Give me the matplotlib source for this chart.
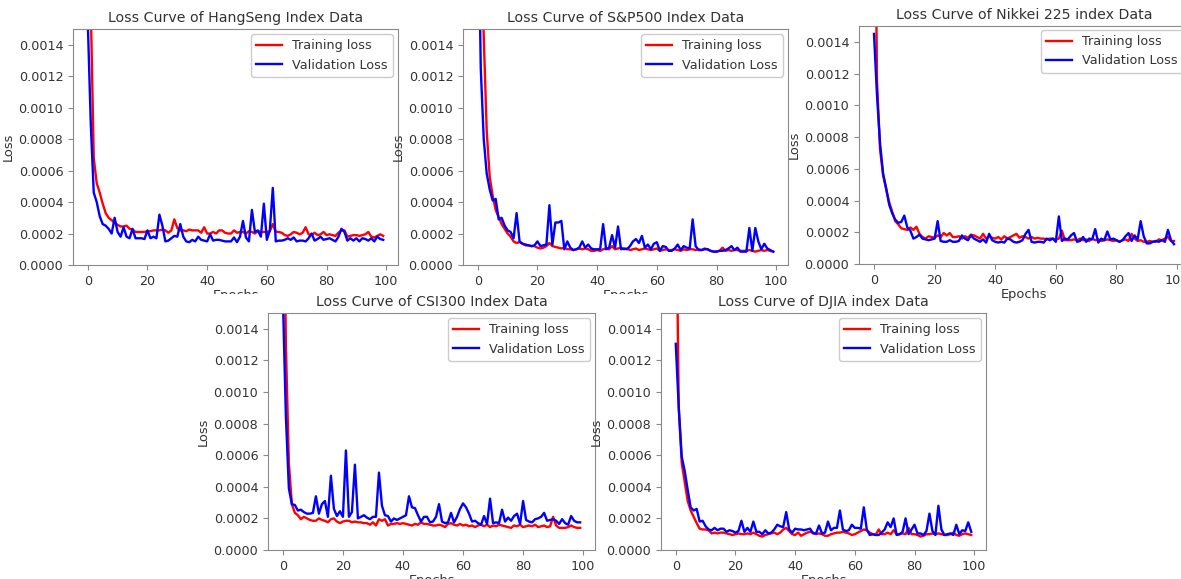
import matplotlib
matplotlib.use("Agg")
import matplotlib.pyplot as plt
from matplotlib.patches import Rectangle
import numpy as np

epochs = list(range(100))

# values in units of 1e-4
hs_train = [35, 16.5, 6.8, 5.2, 4.6, 3.9, 3.3, 3.0, 2.85, 2.7,
            2.55, 2.45, 2.45, 2.5, 2.3, 2.25, 2.1, 2.1, 2.1, 2.1,
            2.15, 2.15, 2.2, 2.2, 2.2, 2.25, 2.2, 2.05, 2.2, 2.9,
            2.35, 2.2, 2.2, 2.15, 2.25, 2.2, 2.2, 2.2, 2.05, 2.4,
            2.0, 2.0, 2.1, 2.0, 2.2, 2.2, 2.05, 2.0, 2.0, 2.2,
            2.05, 2.1, 2.1, 2.0, 2.15, 2.1, 2.0, 2.15, 2.1, 2.1,
            2.1, 2.15, 2.6, 2.1, 2.1, 2.05, 1.9, 1.85, 1.95, 2.1,
            2.05, 1.95, 2.05, 2.4, 1.95, 1.9, 2.05, 1.9, 1.95, 2.1,
            1.9, 1.95, 1.9, 1.85, 2.05, 2.2, 2.2, 1.8, 1.85, 1.9,
            1.9, 1.85, 1.9, 1.95, 2.1, 1.8, 1.75, 1.85, 1.95, 1.85]
hs_val = [15.5, 9.0, 4.6, 4.0, 3.1, 2.6, 2.5, 2.3, 2.0, 3.0,
          2.1, 1.8, 2.4, 1.8, 1.7, 2.3, 1.7, 1.7, 1.7, 1.65,
          2.2, 1.7, 1.8, 1.7, 3.2, 2.5, 1.5, 1.55, 1.7, 1.85,
          1.8, 2.6, 1.8, 1.5, 1.45, 1.6, 1.5, 1.8, 1.6, 1.55,
          1.5, 1.95, 1.55, 1.6, 1.6, 1.55, 1.5, 1.5, 1.5, 1.75,
          1.45, 1.8, 2.8, 1.75, 1.5, 3.5, 2.1, 2.2, 1.8, 3.9,
          1.6, 2.2, 4.9, 1.5, 1.55, 1.55, 1.6, 1.7, 1.6, 1.75,
          1.5, 1.55, 1.55, 1.5, 1.7, 2.0, 1.55, 1.65, 1.8, 1.6,
          1.65, 1.7, 1.6, 1.5, 1.8, 2.3, 2.1, 1.55, 1.7, 1.55,
          1.7, 1.5, 1.7, 1.65, 1.55, 1.7, 1.5, 1.8, 1.65, 1.6]

sp_train = [40, 22, 14.5, 8.5, 5.6, 4.4, 3.5, 3.05, 2.6, 2.3,
            2.0, 1.8, 1.5, 1.4, 1.45, 1.35, 1.25, 1.25, 1.2, 1.2,
            1.1, 1.05, 1.1, 1.2, 1.4, 1.2, 1.15, 1.1, 1.05, 1.1,
            1.0, 1.0, 0.95, 1.0, 1.05, 1.0, 1.05, 1.0, 0.9, 0.9,
            0.95, 0.9, 1.0, 1.05, 1.0, 1.2, 1.0, 1.05, 1.1, 1.0,
            1.05, 0.95, 1.0, 1.05, 0.95, 1.0, 1.05, 1.0, 0.95, 1.0,
            1.05, 0.9, 0.95, 1.0, 0.95, 0.95, 1.0, 0.95, 0.9, 1.0,
            0.95, 1.0, 1.0, 0.95, 1.0, 0.95, 1.05, 1.0, 0.9, 0.85,
            0.85, 0.9, 1.1, 0.9, 0.95, 0.9, 0.95, 0.95, 0.9, 0.9,
            0.9, 0.95, 0.9, 0.85, 0.9, 0.95, 0.9, 0.95, 0.9, 0.85]
sp_val = [25, 12.5, 8.0, 5.8, 4.8, 4.1, 4.2, 2.9, 3.0, 2.5,
          2.2, 2.1, 1.7, 3.3, 1.5, 1.35, 1.3, 1.25, 1.2, 1.25,
          1.5, 1.2, 1.25, 1.3, 3.8, 1.3, 2.7, 2.7, 2.8, 1.0,
          1.5, 1.1, 0.95, 1.0, 1.1, 1.5, 1.1, 1.3, 1.05, 1.0,
          1.0, 1.0, 2.6, 1.0, 1.1, 1.9, 1.1, 2.45, 1.0, 1.05,
          1.0, 1.2, 1.5, 1.65, 1.4, 1.85, 1.1, 1.3, 1.0, 1.35,
          1.45, 0.9, 1.2, 1.15, 0.9, 0.9, 1.05, 1.3, 0.95, 1.2,
          1.1, 1.05, 2.9, 1.2, 0.95, 0.95, 1.0, 1.0, 0.9, 0.85,
          0.85, 0.9, 0.9, 0.95, 1.05, 1.2, 0.95, 1.1, 0.85, 0.85,
          0.85, 2.35, 0.9, 2.35, 1.5, 1.0, 1.35, 1.05, 0.95, 0.85]

nk_train = [30, 11.5, 7.2, 5.6, 4.7, 3.9, 3.3, 2.7, 2.5, 2.25,
            2.2, 2.15, 2.3, 2.15, 2.35, 1.9, 1.7, 1.6, 1.75, 1.7,
            1.65, 1.8, 1.7, 1.95, 1.8, 1.95, 1.7, 1.7, 1.75, 1.6,
            1.75, 1.65, 1.85, 1.8, 1.7, 1.6, 1.9, 1.6, 1.75, 1.65,
            1.6, 1.7, 1.55, 1.75, 1.6, 1.7, 1.8, 1.9, 1.65, 1.75,
            1.7, 1.6, 1.7, 1.6, 1.65, 1.6, 1.6, 1.55, 1.6, 1.6,
            1.55, 1.6, 2.1, 1.5, 1.5, 1.5, 1.55, 1.5, 1.6, 1.5,
            1.55, 1.45, 1.6, 1.5, 1.55, 1.45, 1.5, 1.55, 1.5, 1.45,
            1.5, 1.4, 1.5, 1.55, 1.45, 1.9, 1.6, 1.45, 1.5, 1.4,
            1.4, 1.45, 1.4, 1.4, 1.55, 1.5, 1.6, 1.7, 1.45, 1.45]
nk_val = [14.5, 10.6, 7.6, 5.7, 4.8, 3.75, 3.2, 2.8, 2.6, 2.65,
          3.05, 2.3, 2.1, 1.6, 1.7, 1.85, 1.6, 1.55, 1.5, 1.55,
          1.6, 2.7, 1.45, 1.4, 1.4, 1.5, 1.4, 1.4, 1.45, 1.8,
          1.6, 1.5, 1.8, 1.6, 1.5, 1.4, 1.55, 1.35, 1.9, 1.5,
          1.4, 1.35, 1.4, 1.35, 1.6, 1.55, 1.4, 1.35, 1.4, 1.5,
          1.9, 2.15, 1.4, 1.35, 1.4, 1.4, 1.35, 1.6, 1.5, 1.6,
          1.4, 3.0, 1.45, 1.6, 1.55, 1.8, 1.95, 1.4, 1.45, 1.7,
          1.4, 1.6, 1.55, 2.2, 1.35, 1.6, 1.5, 2.05, 1.55, 1.6,
          1.5, 1.4, 1.5, 1.75, 1.95, 1.45, 1.8, 1.55, 2.7, 1.75,
          1.3, 1.3, 1.4, 1.45, 1.4, 1.5, 1.4, 2.15, 1.5, 1.25]

csi_train = [30, 13, 5.5, 2.9, 2.35, 2.2, 1.95, 2.1, 2.0, 1.9,
             1.85, 1.85, 2.0, 1.9, 1.85, 1.75, 1.95, 2.0, 1.8, 1.7,
             1.8, 1.85, 1.85, 1.75, 1.8, 1.75, 1.75, 1.7, 1.7, 1.6,
             1.75, 1.55, 1.95, 1.85, 1.95, 1.55, 1.65, 1.65, 1.7, 1.65,
             1.7, 1.65, 1.6, 1.55, 1.65, 1.6, 1.75, 1.65, 1.65, 1.6,
             1.55, 1.55, 1.6, 1.55, 1.45, 1.65, 1.7, 1.6, 1.55, 1.65,
             1.55, 1.6, 1.5, 1.55, 1.45, 1.55, 1.6, 1.5, 1.6, 1.45,
             1.55, 1.5, 1.6, 1.55, 1.5, 1.45, 1.4, 1.55, 1.5, 1.6,
             1.45, 1.5, 1.55, 1.5, 1.6, 1.45, 1.5, 1.55, 1.45, 1.5,
             2.1, 1.55, 1.4, 1.4, 1.4, 1.45, 1.55, 1.45, 1.4, 1.4]
csi_val = [16, 8.5, 3.9, 2.9, 2.85, 2.5, 2.55, 2.4, 2.3, 2.3,
           2.35, 3.4, 2.3, 2.9, 3.1, 2.1, 4.7, 2.6, 2.15, 2.45,
           2.1, 6.3, 2.1, 2.4, 5.4, 2.0, 2.1, 2.2, 2.05, 1.95,
           2.1, 2.1, 4.9, 2.8, 2.2, 2.15, 1.8, 2.0, 1.9, 2.0,
           2.1, 2.2, 3.4, 2.7, 2.65, 2.2, 1.8, 2.1, 2.1, 1.75,
           1.8, 2.1, 2.9, 1.8, 1.7, 1.75, 2.35, 1.75, 2.1, 2.6,
           2.95, 2.7, 2.3, 1.8, 1.85, 1.7, 1.6, 2.15, 1.65, 3.25,
           1.7, 1.75, 1.7, 2.55, 1.8, 2.05, 1.85, 2.15, 2.3, 1.65,
           3.1, 1.9, 1.8, 1.75, 1.95, 2.0, 2.1, 2.35, 1.85, 1.9,
           1.95, 1.85, 1.65, 1.95, 1.7, 1.6, 2.15, 1.85, 1.75, 1.75]

dj_train = [25, 9.0, 5.5, 4.3, 3.1, 2.5, 2.1, 1.7, 1.35, 1.3,
            1.3, 1.25, 1.05, 1.1, 1.05, 1.1, 1.1, 1.05, 1.0, 0.95,
            1.0, 1.05, 1.0, 1.0, 1.05, 1.0, 1.1, 1.0, 0.9, 0.85,
            0.95, 1.0, 1.05, 1.1, 1.0, 1.1, 1.3, 1.4, 1.2, 1.0,
            0.95, 1.1, 0.9, 1.0, 1.1, 1.15, 1.1, 1.0, 1.05, 1.0,
            0.9, 0.9, 1.0, 1.05, 1.1, 1.1, 1.15, 1.1, 1.05, 0.95,
            1.0, 1.1, 1.2, 1.3, 1.25, 1.1, 1.0, 0.95, 1.3, 1.0,
            1.0, 1.1, 1.0, 1.25, 1.0, 1.0, 1.05, 1.0, 1.4, 1.0,
            1.0, 0.95, 0.85, 0.9, 1.0, 1.0, 1.05, 1.0, 1.05, 1.0,
            0.95, 0.95, 1.0, 1.1, 0.95, 0.9, 1.0, 1.05, 1.0, 0.95]
dj_val = [13.05, 9.0, 5.9, 5.0, 3.8, 2.7, 2.5, 2.6, 1.8, 1.85,
          1.5, 1.3, 1.25, 1.4, 1.25, 1.35, 1.35, 1.15, 1.25, 1.2,
          1.1, 1.2, 1.85, 1.15, 1.4, 1.15, 1.8, 1.15, 1.15, 1.0,
          1.25, 1.05, 1.1, 1.3, 1.6, 1.5, 1.45, 2.4, 1.3, 1.1,
          1.35, 1.3, 1.3, 1.25, 1.3, 1.35, 1.05, 1.05, 1.55, 1.05,
          1.1, 1.8, 1.25, 1.4, 1.4, 2.5, 1.3, 1.2, 1.25, 1.6,
          1.4, 1.4, 1.35, 2.7, 1.3, 0.95, 1.0, 0.95, 0.95, 1.1,
          1.3, 1.75, 1.45, 2.0, 0.95, 1.0, 1.15, 2.0, 1.0, 1.3,
          1.6, 1.05, 1.05, 0.95, 1.2, 2.3, 1.2, 0.95, 2.8, 1.3,
          0.95, 1.0, 1.05, 0.95, 1.6, 1.0, 1.25, 1.2, 1.75, 1.15]

titles = ["Loss Curve of HangSeng Index Data",
          "Loss Curve of S&P500 Index Data",
          "Loss Curve of Nikkei 225 index Data",
          "Loss Curve of CSI300 Index Data",
          "Loss Curve of DJIA index Data"]
train_series = [hs_train, sp_train, nk_train, csi_train, dj_train]
val_series = [hs_val, sp_val, nk_val, csi_val, dj_val]
yticks = [0, 0.0002, 0.0004, 0.0006, 0.0008, 0.0010, 0.0012, 0.0014]
xticks = [0, 20, 40, 60, 80, 100]

W, H = 1181, 579
fig = plt.figure(figsize=(W / 100, H / 100), dpi=100)

# pixel boxes: left, top, right, bottom
boxes = [(73, 29, 398, 265),
         (463, 29, 788, 265),
         (859, 26, 1189, 264),
         (268, 313, 595, 550),
         (661, 313, 986, 550)]

text_col = "#333333"
spine_col = "#8a8a8a"

axes = []
for i, (l, t, r, b) in enumerate(boxes):
    ax = fig.add_axes([l / W, (H - b) / H, (r - l) / W, (b - t) / H],
                      zorder=2 if i >= 3 else 0)
    scale = 1e-4
    ax.plot(epochs, np.array(train_series[i]) * scale, color="red",
            lw=1.7, label="Training loss")
    ax.plot(epochs, np.array(val_series[i]) * scale, color="blue",
            lw=1.7, label="Validation Loss")
    ax.set_ylim(0, 0.0015)
    ax.set_xlim(-4.95, 103.95)
    ax.set_yticks(yticks)
    ax.set_yticklabels([f"{v:.4f}" for v in yticks])
    ax.set_xticks(xticks)
    ax.tick_params(labelsize=9.2, colors=spine_col, labelcolor=text_col)
    for s in ax.spines.values():
        s.set_color(spine_col)
    ax.set_title(titles[i], fontsize=10.2, color=text_col, pad=5)
    ax.set_xlabel("Epochs", fontsize=9.4, color=text_col, labelpad=1)
    ax.set_ylabel("Loss", fontsize=9.4, color=text_col, labelpad=3)
    if i == 2:
        leg = ax.legend(loc="upper right", fontsize=9.2, framealpha=1,
                        bbox_to_anchor=(1183 / W, (H - 30) / H),
                        bbox_transform=fig.transFigure, borderaxespad=0)
    else:
        leg = ax.legend(loc="upper right", fontsize=9.2, framealpha=1,
                        borderaxespad=0.4)
    for tx in leg.get_texts():
        tx.set_color(text_col)
    axes.append(ax)

# the bottom row of screenshots covers the lower part of the top row's labels
fig.patches.append(Rectangle((190 / W, 0), (1000 - 190) / W, (H - 294) / H,
                             transform=fig.transFigure, facecolor="white",
                             edgecolor="none", zorder=1))

fig.savefig("out.png", dpi=100)
